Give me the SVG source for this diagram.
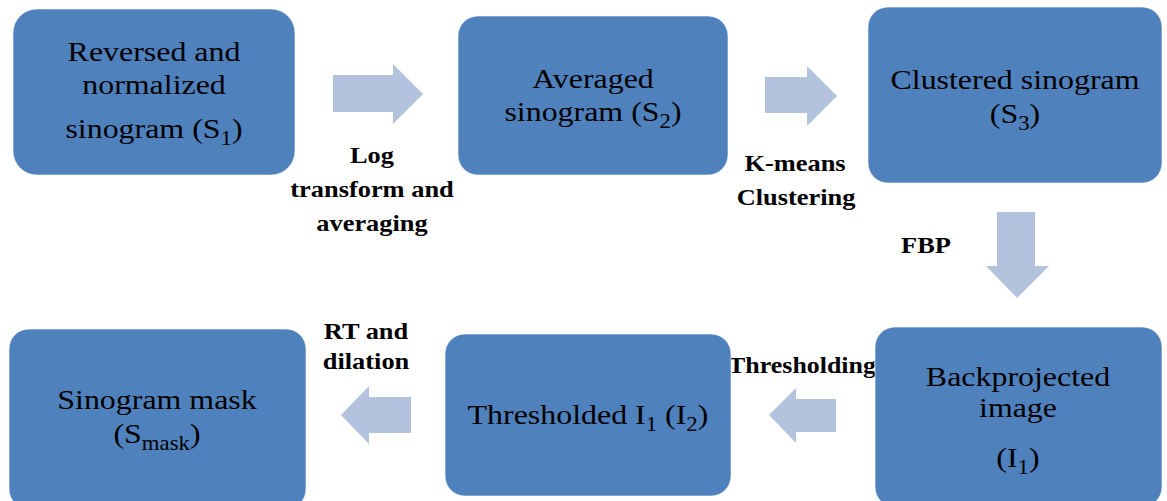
<svg xmlns="http://www.w3.org/2000/svg" width="1167" height="501" viewBox="0 0 1167 501">
<style>
.box{fill:#4F81BD;stroke:#FFFFFF;stroke-width:1;stroke-opacity:0.6}
.arr{fill:#B3C3DE}
.t{font-family:"Liberation Serif","Times New Roman",serif;font-size:28px;fill:#000;text-anchor:middle}
.s{font-size:20px}
.b{font-family:"Liberation Serif","Times New Roman",serif;font-size:24px;font-weight:bold;fill:#000;text-anchor:middle}
</style>
<rect width="1167" height="501" fill="#FFFFFF"/>
<g id="connectors">
<polygon class="arr" points="333,75 393,75 393,64 423,94 393,124 393,112 333,112"/>
<polygon class="arr" points="765,77 807,77 807,66 837,96 807,126 807,113 765,113"/>
<polygon class="arr" points="997,212 1035,212 1035,266 1049,266 1017,298 986,266 997,266"/>
<polygon class="arr" points="769,415 796,388 796,399 836,399 836,432 796,432 796,443"/>
<polygon class="arr" points="341,415 369,386 369,397 411,397 411,433 369,433 369,444"/>
<text class="b" transform="translate(372,163) scale(1.1,1)">Log</text>
<text class="b" transform="translate(372,197) scale(1.1,1)">transform and</text>
<text class="b" transform="translate(372,231) scale(1.1,1)">averaging</text>
<text class="b" transform="translate(795,171) scale(1.1,1)">K-means</text>
<text class="b" transform="translate(796,205) scale(1.1,1)">Clustering</text>
<text class="b" transform="translate(926,253) scale(1.1,1)">FBP</text>
<text class="b" transform="translate(802,373) scale(1.08,1)">Thresholding</text>
<text class="b" transform="translate(366,339) scale(1.1,1)">RT and</text>
<text class="b" transform="translate(366,369) scale(1.1,1)">dilation</text>
</g>
<g id="node-s1">
<rect class="box" x="13" y="9" width="282" height="166" rx="24"/>
<text class="t" transform="translate(154,61) scale(1.14,1)">Reversed and</text>
<text class="t" transform="translate(154,94) scale(1.14,1)">normalized</text>
<text class="t" transform="translate(154,138) scale(1.14,1)">sinogram (S<tspan class="s" dy="7">1</tspan><tspan dy="-7">)</tspan></text>
</g>
<g id="node-s2">
<rect class="box" x="458" y="16" width="270" height="159" rx="20"/>
<text class="t" transform="translate(593,88) scale(1.14,1)">Averaged</text>
<text class="t" transform="translate(593,121) scale(1.14,1)">sinogram (S<tspan class="s" dy="7">2</tspan><tspan dy="-7">)</tspan></text>
</g>
<g id="node-s3">
<rect class="box" x="868" y="7" width="294" height="176" rx="20"/>
<text class="t" transform="translate(1015,89) scale(1.14,1)">Clustered sinogram</text>
<text class="t" transform="translate(1015,123) scale(1.14,1)">(S<tspan class="s" dy="7">3</tspan><tspan dy="-7">)</tspan></text>
</g>
<g id="node-i1">
<rect class="box" x="875" y="327" width="287" height="180" rx="20"/>
<text class="t" transform="translate(1018,386) scale(1.14,1)">Backprojected</text>
<text class="t" transform="translate(1018,417) scale(1.14,1)">image</text>
<text class="t" transform="translate(1018,467) scale(1.14,1)">(I<tspan class="s" dy="7">1</tspan><tspan dy="-7">)</tspan></text>
</g>
<g id="node-i2">
<rect class="box" x="445" y="334" width="286" height="162" rx="20"/>
<text class="t" transform="translate(588,424) scale(1.14,1)">Thresholded I<tspan class="s" dy="7">1</tspan><tspan dy="-7"> (I</tspan><tspan class="s" dy="7">2</tspan><tspan dy="-7">)</tspan></text>
</g>
<g id="node-mask">
<rect class="box" x="9" y="329" width="297" height="180" rx="20"/>
<text class="t" transform="translate(157,409) scale(1.14,1)">Sinogram mask</text>
<text class="t" transform="translate(157,443) scale(1.14,1)">(S<tspan class="s" dy="7">mask</tspan><tspan dy="-7">)</tspan></text>
</g>
</svg>
